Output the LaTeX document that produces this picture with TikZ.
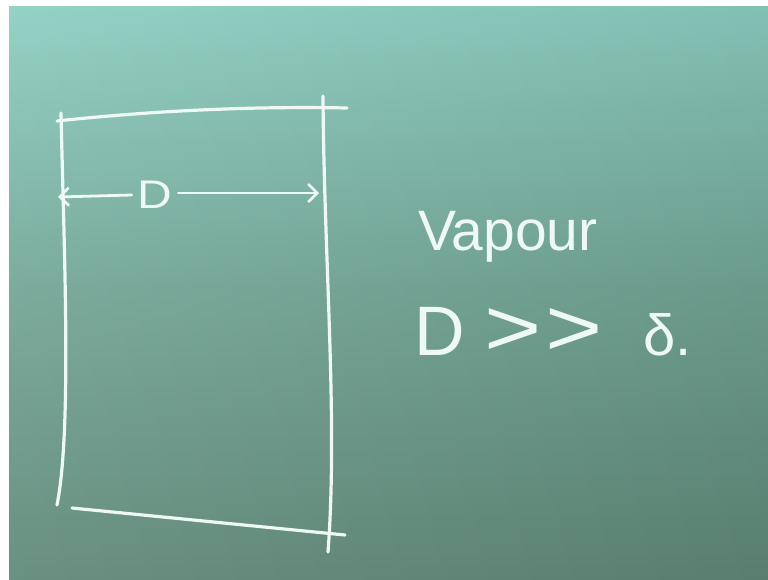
\documentclass[tikz,border=0pt]{standalone}
\usepackage{graphicx}
\usepackage{fontspec}
\setmainfont{Liberation Sans}
\usetikzlibrary{arrows.meta}
\definecolor{boardtop}{HTML}{8DCFC2}
\definecolor{boardmid}{HTML}{72A595}
\definecolor{boardbot}{HTML}{5F8878}
\definecolor{chalk}{HTML}{EEF8F4}
\tikzset{
  chalkline/.style={draw=chalk, line width=3.2pt, line cap=round, line join=round},
  dimline/.style={draw=chalk, line width=2.8pt, line cap=round, -{Straight Barb[length=9pt,width=18pt,line width=2.6pt]}},
  chalktext/.style={text=chalk, inner sep=0pt, outer sep=0pt},
}
\begin{document}
\begin{tikzpicture}[x=1pt,y=-1pt]
\useasboundingbox (0,0) rectangle (768,579);
\fill[white] (0,0) rectangle (768,579);
\shade[top color=boardtop, bottom color=boardbot, middle color=boardmid] (9,6) rectangle (768,579);
\shade[left color=white, right color=black, opacity=0.07] (9,6) rectangle (768,579);
% box
\draw[chalkline] (57,121) .. controls (150,111) and (250,106) .. (347,108);
\draw[chalkline] (323,96) .. controls (324,260) and (338,420) .. (328,552);
\draw[chalkline] (61,113) .. controls (64,250) and (72,430) .. (57,505);
\draw[chalkline] (72,508) -- (345,535);
% dimension D
\coordinate (dl) at (58,197);
\coordinate (dr) at (319,193);
\node[chalktext, font=\fontsize{40}{42}\selectfont, outer sep=6pt] (dlab) at (155,195) {\scalebox{1.2}[1]{D}};
\draw[dimline] (dlab.west |- 0,195) -- (dl);
\draw[dimline] (dlab.east |- 0,193) -- (dr);
% texts
\node[chalktext, anchor=base west, font=\fontsize{57}{59}\selectfont] (vap) at (418,250) {Vapour};
\node[chalktext, anchor=base west, font=\fontsize{70}{72}\selectfont] (rel) at (414,355) {D\hspace{20pt}\scalebox{1.4}[1.15]{>}\hspace{4pt}\scalebox{1.4}[1.15]{>}\hspace{40pt}{\fontsize{58}{60}\selectfont δ.}};
\end{tikzpicture}
\end{document}
